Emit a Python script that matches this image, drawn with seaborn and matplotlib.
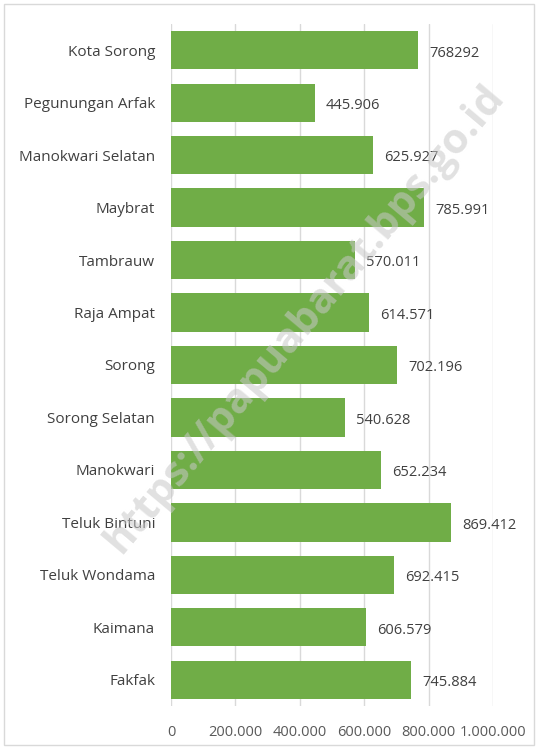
import numpy as np
import pandas as pd
import seaborn as sns
import matplotlib.pyplot as plt
from matplotlib.patches import Rectangle

# data
kabupaten = ['Kota Sorong', 'Pegunungan Arfak', 'Manokwari Selatan', 'Maybrat',
             'Tambrauw', 'Raja Ampat', 'Sorong', 'Sorong Selatan', 'Manokwari',
             'Teluk Bintuni', 'Teluk Wondama', 'Kaimana', 'Fakfak']
nilai = [768292, 445906, 625927, 785991, 570011, 614571, 702196,
         540628, 652234, 869412, 692415, 606579, 745884]
label_nilai = ['768292', '445.906', '625.927', '785.991', '570.011', '614.571', '702.196',
               '540.628', '652.234', '869.412', '692.415', '606.579', '745.884']
xticks = [0, 200000, 400000, 600000, 800000, 1000000]
xtick_labels = ['0', '200.000', '400.000', '600.000', '800.000', '1.000.000']

df = pd.DataFrame({'kabupaten': kabupaten, 'nilai': nilai})

sns.set_style('white')
plt.rcParams['font.family'] = ['Open Sans', 'DejaVu Sans']

fig = plt.figure(figsize=(5.38, 7.49), dpi=100)
ax = fig.add_axes([171 / 538, 1 - 706 / 749, (493 - 171) / 538, (706 - 24) / 749])

sns.barplot(data=df, x='nilai', y='kabupaten', color='#70AD47', saturation=1,
            width=0.73, ax=ax, edgecolor='none')

ax.set_xlim(0, 1000000)
ax.set_ylim(12.5, -0.5)
ax.set_xticks(xticks)
ax.set_xticklabels(xtick_labels)
ax.grid(axis='x', color='#d9d9d9', linewidth=1)
ax.set_axisbelow(True)
for s in ax.spines.values():
    s.set_visible(False)
ax.tick_params(axis='y', length=0, pad=11.5, labelsize=11, labelcolor='#404040')
ax.tick_params(axis='x', length=0, pad=14, labelsize=10.5, labelcolor='#595959')
ax.set_xlabel('')
ax.set_ylabel('')

# data labels
for i, (v, t) in enumerate(zip(nilai, label_nilai)):
    ax.annotate(t, (v, i), xytext=(8, -2), textcoords='offset points',
                va='center', ha='left', fontsize=10.5, color='#404040')

# watermark
fig.text(0.568, 0.575, 'https://papuabarat.bps.go.id', rotation=50,
         ha='center', va='center', fontsize=30, fontweight='bold',
         color='#c8c8c8', alpha=0.55, zorder=10)

# border
fig.patches.append(Rectangle((4 / 538, 4 / 749), 530 / 538, 741 / 749,
                             transform=fig.transFigure, fill=False,
                             edgecolor='#d9d9d9', linewidth=1))

plt.savefig('out.png', dpi=100)
